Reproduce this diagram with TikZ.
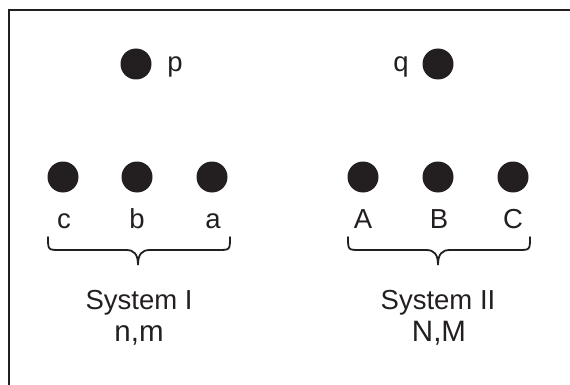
\documentclass[tikz,border=0pt]{standalone}
\usepackage{fontspec}
\setmainfont{Liberation Sans}
\definecolor{ink}{HTML}{231F20}
\begin{document}
\begin{tikzpicture}[x=1pt,y=-1pt,
    particle/.style={circle,fill=ink,draw=none,minimum size=31pt,inner sep=0pt},
    lbl/.style={text=ink,font=\fontsize{27.5}{32}\selectfont,inner sep=0pt,anchor=base},
    sub/.style={lbl,font=\fontsize{29.5}{34}\selectfont},
    frame/.style={draw=ink,line width=2pt},
    bracestroke/.style={draw=ink,line width=1.8pt,line cap=round}]
  \useasboundingbox (0,0) rectangle (570,385);
  % open frame: top and left edges only
  \draw[frame] (9,386) -- (9,10) -- (570,10);

  % isolated particles
  \node[particle] (p) at (136,64) {};
  \node[lbl] (plbl) at (175,72) {p};
  \node[particle] (q) at (438,64) {};
  \node[lbl] (qlbl) at (401,72) {q};

  % system I
  \node[particle] (c) at (63,177) {};
  \node[particle] (b) at (137,177) {};
  \node[particle] (a) at (212,177) {};
  \node[lbl] (clbl) at (64,228) {c};
  \node[lbl] (blbl) at (137,228) {b};
  \node[lbl] (albl) at (213,228) {a};

  % system II
  \node[particle] (A) at (363,177) {};
  \node[particle] (B) at (438,177) {};
  \node[particle] (C) at (513,177) {};
  \node[lbl] (Albl) at (363,228) {A};
  \node[lbl] (Blbl) at (439,228) {B};
  \node[lbl] (Clbl) at (513,228) {C};

  % underbraces
  \draw[bracestroke] (48,237) .. controls (48,250) and (48,250) .. (60,250) -- (126,250)
    .. controls (134,250) and (138,254) .. (138,265)
    .. controls (138,254) and (142,250) .. (150,250) -- (218,250)
    .. controls (230,250) and (230,250) .. (230,237);
  \draw[bracestroke] (348,237) .. controls (348,250) and (348,250) .. (360,250) -- (426,250)
    .. controls (434,250) and (438,254) .. (438,265)
    .. controls (438,254) and (442,250) .. (450,250) -- (518,250)
    .. controls (530,250) and (530,250) .. (530,237);

  % system captions
  \node[lbl] (sysI) at (139,309) {System I};
  \node[sub] (nm) at (139,341) {n,m};
  \node[lbl] (sysII) at (438,309) {System II};
  \node[sub] (NM) at (439,341) {N,M};
\end{tikzpicture}
\end{document}
